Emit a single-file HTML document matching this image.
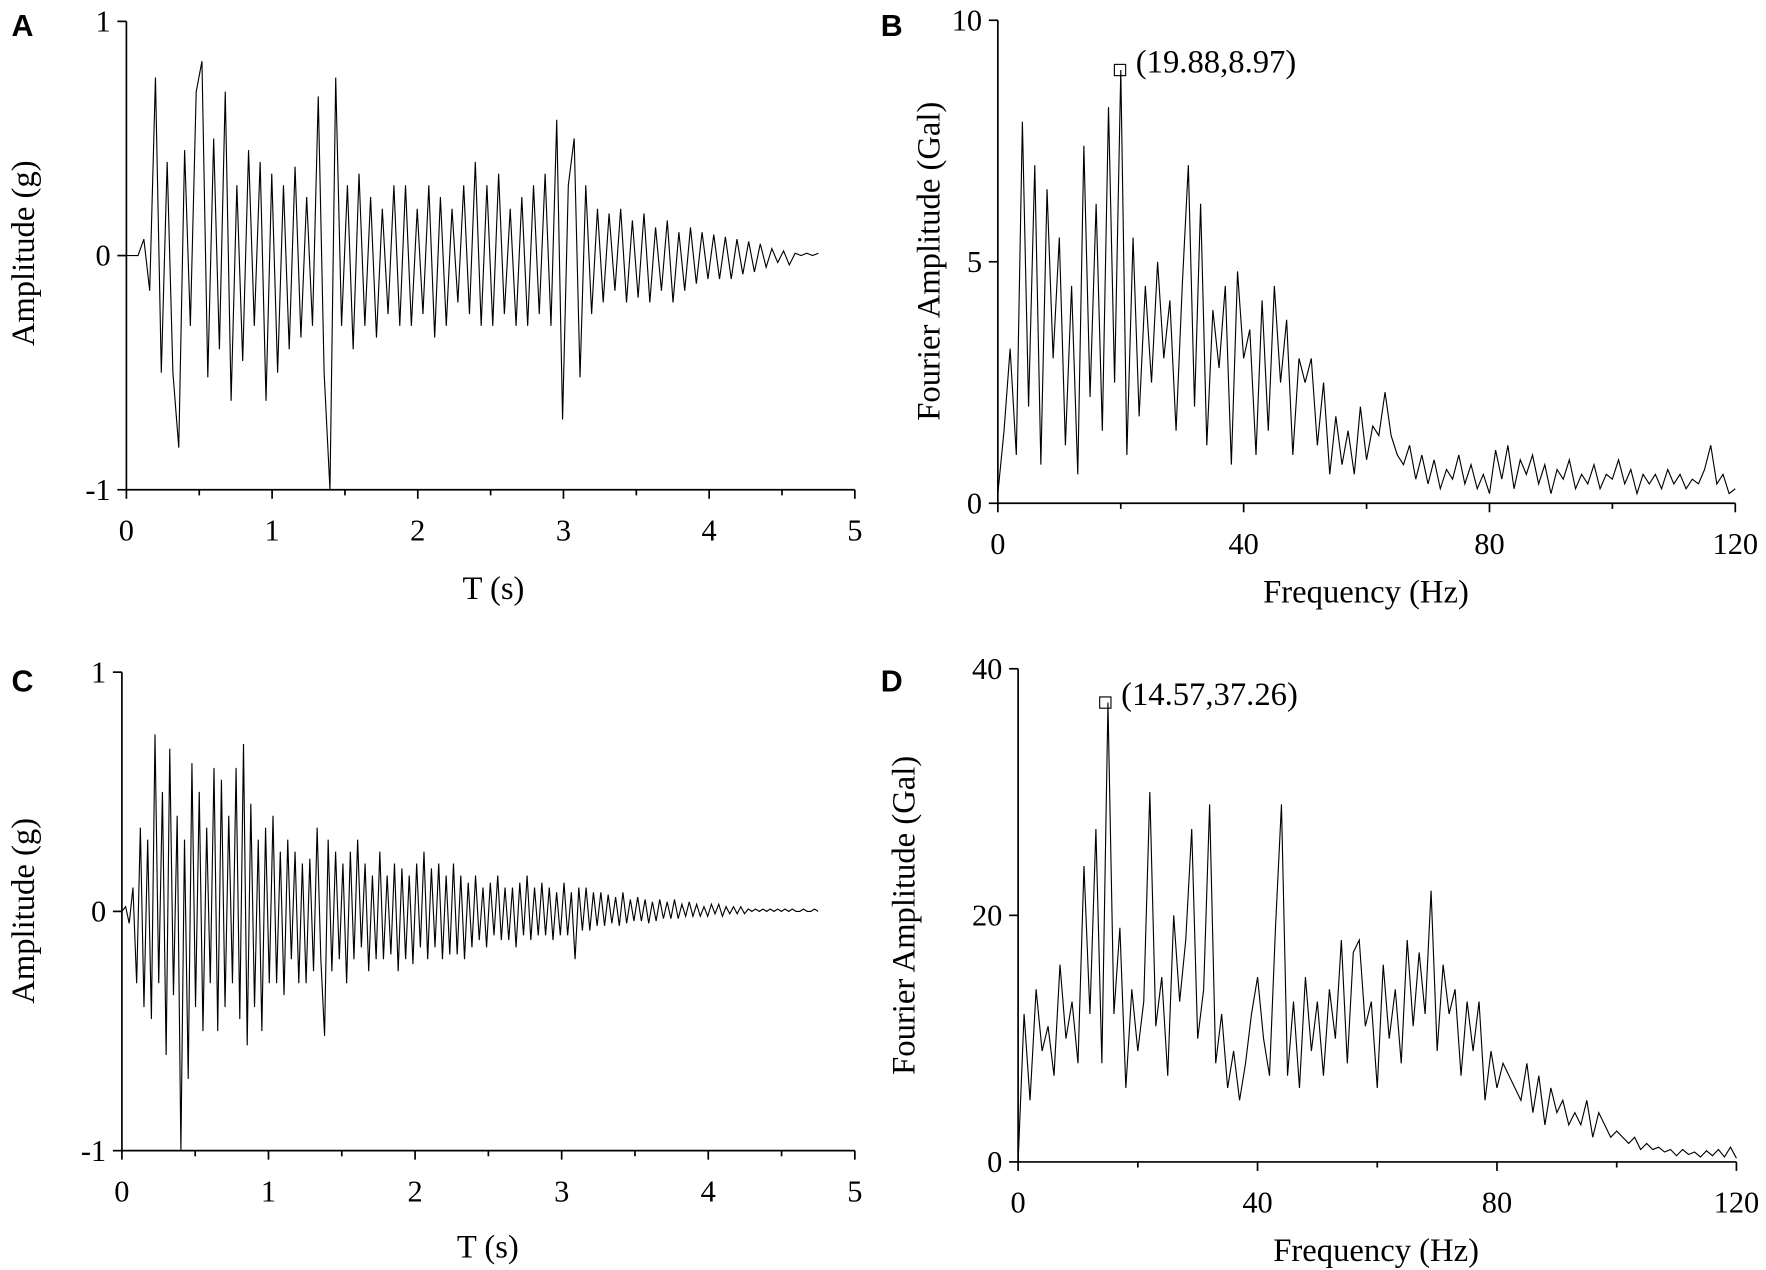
<!DOCTYPE html>
<html><head><meta charset="utf-8">
<style>
html,body{margin:0;padding:0;background:#fff;}
svg{display:block;}
text{font-family:"Liberation Serif",serif;fill:#000;}
.tick{font-size:27px;}
.lab{font-size:29px;}
.panel{font-family:"Liberation Sans",sans-serif;font-weight:bold;font-size:27px;}
</style></head>
<body>
<svg id="fig" width="1766" height="1270" viewBox="0 0 1568 1128" xmlns="http://www.w3.org/2000/svg"></svg>
<script>
// ---- Data ----
const seriesA = [0,0,0,0.07,-0.15,0.76,-0.5,0.4,-0.5,-0.82,
0.45,-0.3,0.7,0.83,-0.52,0.5,-0.4,0.7,-0.62,0.3,
-0.45,0.45,-0.3,0.4,-0.62,0.35,-0.5,0.3,-0.4,0.38,
-0.35,0.25,-0.3,0.68,-0.5,-1.0,0.76,-0.3,0.3,-0.4,
0.35,-0.3,0.25,-0.35,0.2,-0.25,0.3,-0.3,0.3,-0.3,
0.2,-0.25,0.3,-0.35,0.25,-0.3,0.2,-0.2,0.3,-0.25,
0.4,-0.3,0.3,-0.3,0.35,-0.25,0.2,-0.3,0.25,-0.3,
0.3,-0.25,0.35,-0.3,0.58,-0.7,0.3,0.5,-0.52,0.3,
-0.25,0.2,-0.2,0.18,-0.15,0.2,-0.2,0.15,-0.18,0.18,
-0.2,0.12,-0.15,0.15,-0.2,0.1,-0.15,0.12,-0.12,0.1,
-0.1,0.09,-0.1,0.08,-0.1,0.07,-0.08,0.06,-0.07,0.05,
-0.05,0.03,-0.03,0.02,-0.04,0.01,0,0.01,0,0.01];
const seriesB = [0.2,1.5,3.2,1.0,7.9,2.0,7.0,0.8,6.5,3.0,
5.5,1.2,4.5,0.6,7.4,2.2,6.2,1.5,8.2,2.5,
8.97,1.0,5.5,1.8,4.5,2.5,5.0,3.0,4.2,1.5,
4.5,7.0,2.0,6.2,1.2,4.0,2.8,4.5,0.8,4.8,
3.0,3.6,1.0,4.2,1.5,4.5,2.5,3.8,1.0,3.0,
2.5,3.0,1.2,2.5,0.6,1.8,0.8,1.5,0.6,2.0,
0.9,1.6,1.4,2.3,1.4,1.0,0.8,1.2,0.5,1.0,
0.4,0.9,0.3,0.7,0.5,1.0,0.4,0.8,0.3,0.6,
0.2,1.1,0.5,1.2,0.3,0.9,0.6,1.0,0.4,0.8,
0.2,0.7,0.5,0.9,0.3,0.6,0.4,0.8,0.3,0.6,
0.5,0.9,0.4,0.7,0.2,0.6,0.4,0.6,0.3,0.7,
0.4,0.6,0.3,0.5,0.4,0.7,1.2,0.4,0.6,0.2,
0.3];
const seriesC = [0,0.02,-0.05,0.1,-0.3,0.35,-0.4,0.3,-0.45,0.74,
-0.3,0.5,-0.6,0.68,-0.35,0.4,-1.0,0.3,-0.7,0.62,
-0.4,0.5,-0.5,0.35,-0.3,0.6,-0.5,0.55,-0.4,0.4,
-0.3,0.6,-0.45,0.7,-0.56,0.45,-0.4,0.3,-0.5,0.35,
-0.3,0.4,-0.3,0.25,-0.35,0.3,-0.2,0.25,-0.3,0.2,
-0.3,0.22,-0.25,0.35,-0.2,-0.52,0.3,-0.25,0.25,-0.2,
0.2,-0.3,0.25,-0.2,0.3,-0.15,0.2,-0.25,0.15,-0.2,
0.25,-0.2,0.15,-0.18,0.2,-0.25,0.18,-0.2,0.15,-0.22,
0.2,-0.15,0.25,-0.2,0.18,-0.15,0.2,-0.2,0.15,-0.18,
0.2,-0.18,0.15,-0.2,0.12,-0.15,0.15,-0.12,0.1,-0.15,
0.12,-0.1,0.15,-0.12,0.1,-0.12,0.1,-0.15,0.12,-0.1,
0.15,-0.12,0.1,-0.1,0.12,-0.1,0.1,-0.12,0.08,-0.1,
0.12,-0.1,0.08,-0.2,0.1,-0.08,0.1,-0.08,0.08,-0.06,
0.08,-0.06,0.07,-0.05,0.06,-0.06,0.08,-0.05,0.05,-0.04,
0.06,-0.04,0.05,-0.05,0.04,-0.04,0.05,-0.03,0.04,-0.03,
0.05,-0.03,0.03,-0.02,0.04,-0.02,0.03,-0.02,0.02,-0.02,
0.03,-0.01,0.03,-0.02,0.02,-0.01,0.02,-0.01,0.02,-0.01,
0.01,0,0.01,0,0.01,0,0.01,0,0.01,0,
0.01,0,0.01,0,0,0.01,0,0,0.01,0];
const seriesD = [0,12,5,14,9,11,7,16,10,13,
8,24,12,27,8,37.26,12,19,6,14,
9,13,30,11,15,7,20,13,18,27,
10,14,29,8,12,6,9,5,8,12,
15,10,7,19,29,7,13,6,15,9,
13,7,14,10,18,8,17,18,11,13,
6,16,10,14,8,18,11,17,12,22,
9,16,12,14,7,13,9,13,5,9,
6,8,7,6,5,8,4,7,3,6,
4,5,3,4,3,5,2,4,3,2,
2.5,2,1.5,2,1,1.5,1,1.2,0.8,1,
0.5,1,0.6,0.8,0.4,0.9,0.5,1,0.4,1.2,
0.3];
const xTicksT = ["0","1","2","3","4","5"];
const yTicksG = ["1","0","-1"];
const xTicksF = ["0","40","80","120"];
const yTicksB = ["0","5","10"];
const yTicksD = ["0","20","40"];
const peakB = [19.88, 8.97];
const peakD = [14.57, 37.26];

const svg = document.getElementById('fig');
const NS = 'http://www.w3.org/2000/svg';
function mk(tag, attrs, parent){const e=document.createElementNS(NS,tag);for(const k in attrs)e.setAttribute(k,attrs[k]);(parent||svg).appendChild(e);return e;}
function scale(d0,d1,r0,r1){return v=>r0+(v-d0)/(d1-d0)*(r1-r0);}

function panel(cfg){
  const g = mk('g',{});
  
  
  const sx = scale(cfg.xd[0],cfg.xd[1],cfg.xr[0],cfg.xr[1]);
  const sy = scale(cfg.yd[0],cfg.yd[1],cfg.yr[0],cfg.yr[1]);
  const ax = mk('path',{d:`M${cfg.xr[0]},${cfg.yr[1]} V${cfg.yr[0]} H${cfg.xr[1]}`,fill:'none',stroke:'#000','stroke-width':1.5},g);
  
  
  const nx = cfg.xt.length;
  cfg.xt.forEach((t,i)=>{
    const v = cfg.xd[0]+(cfg.xd[1]-cfg.xd[0])*i/(nx-1);
    const x = sx(v);
    mk('line',{x1:x,x2:x,y1:cfg.yr[0],y2:cfg.yr[0]+8,stroke:'#000','stroke-width':1.5},g);
    if(i<nx-1){const xm=sx(v+(cfg.xd[1]-cfg.xd[0])/(nx-1)/2);mk('line',{x1:xm,x2:xm,y1:cfg.yr[0],y2:cfg.yr[0]+5,stroke:'#000','stroke-width':1.5},g);}
    const tx = mk('text',{x:x,y:cfg.yr[0]+45,'text-anchor':'middle',class:'tick'},g);
    tx.textContent=t;
    
    
  });
  cfg.yt.forEach((t,i)=>{
    const v = parseFloat(t);
    const y = sy(v);
    mk('line',{x1:cfg.xr[0]-8,x2:cfg.xr[0],y1:y,y2:y,stroke:'#000','stroke-width':1.5},g);
    const tx = mk('text',{x:cfg.xr[0]-14,y:y+9,'text-anchor':'end',class:'tick'},g);
    tx.textContent=t;
    
    
  });
  const n = cfg.data.length;
  const pts = cfg.data.map((v,i)=>{const xv=cfg.x0+(cfg.x1-cfg.x0)*i/(n-1);return sx(xv).toFixed(1)+','+sy(v).toFixed(1);}).join(' ');
  const pl = mk('polyline',{points:pts,fill:'none',stroke:'#000','stroke-width':1},g);
  
  
  if(cfg.peak){
    const px=sx(cfg.peak[0]), py=sy(cfg.peak[1]);
    const r=mk('rect',{x:px-5,y:py-5,width:10,height:10,fill:'none',stroke:'#000','stroke-width':1},g);
    
    
    const tx=mk('text',{x:px+14,y:py+2,class:'lab'},g);
    tx.textContent='('+cfg.peak[0].toFixed(2)+','+cfg.peak[1].toFixed(2)+')';
    
    
  }
  const xl=mk('text',{x:cfg.xlab[0],y:cfg.xlab[1],'text-anchor':'middle',class:'lab'},g);
  xl.textContent=cfg.xlabel;
  
  
  const yl=mk('text',{x:0,y:0,'text-anchor':'middle',class:'lab',transform:`translate(${cfg.ylab[0]},${cfg.ylab[1]}) rotate(-90)`},g);
  yl.textContent=cfg.ylabel;
  
  
  const pt=mk('text',{x:cfg.letter[0],y:cfg.letter[1],class:'panel'},g);
  pt.textContent=cfg.letter[2];
  
  
}

panel({name:'panel-a',xd:[0,5],xr:[112,759],yd:[-1,1],yr:[435,19],xt:xTicksT,yt:yTicksG,data:seriesA,x0:0,x1:4.75,
  xlabel:'T (s)',ylabel:'Amplitude (g)',xlab:[438,532],ylab:[30,225],letter:[10,32,'A']});
panel({name:'panel-b',xd:[0,120],xr:[886,1541],yd:[0,10],yr:[447,18],xt:xTicksF,yt:yTicksB,data:seriesB,x0:0,x1:120,peak:peakB,
  xlabel:'Frequency (Hz)',ylabel:'Fourier Amplitude (Gal)',xlab:[1213,535],ylab:[834,232],letter:[782,32,'B']});
panel({name:'panel-c',xd:[0,5],xr:[108,759],yd:[-1,1],yr:[1022,597],xt:xTicksT,yt:yTicksG,data:seriesC,x0:0,x1:4.75,
  xlabel:'T (s)',ylabel:'Amplitude (g)',xlab:[433,1117],ylab:[30,809],letter:[10,614,'C']});
panel({name:'panel-d',xd:[0,120],xr:[904,1542],yd:[0,40],yr:[1032,594],xt:xTicksF,yt:yTicksD,data:seriesD,x0:0,x1:120,peak:peakD,
  xlabel:'Frequency (Hz)',ylabel:'Fourier Amplitude (Gal)',xlab:[1222,1120],ylab:[812,813],letter:[782,614,'D']});
</script>
</body></html>
